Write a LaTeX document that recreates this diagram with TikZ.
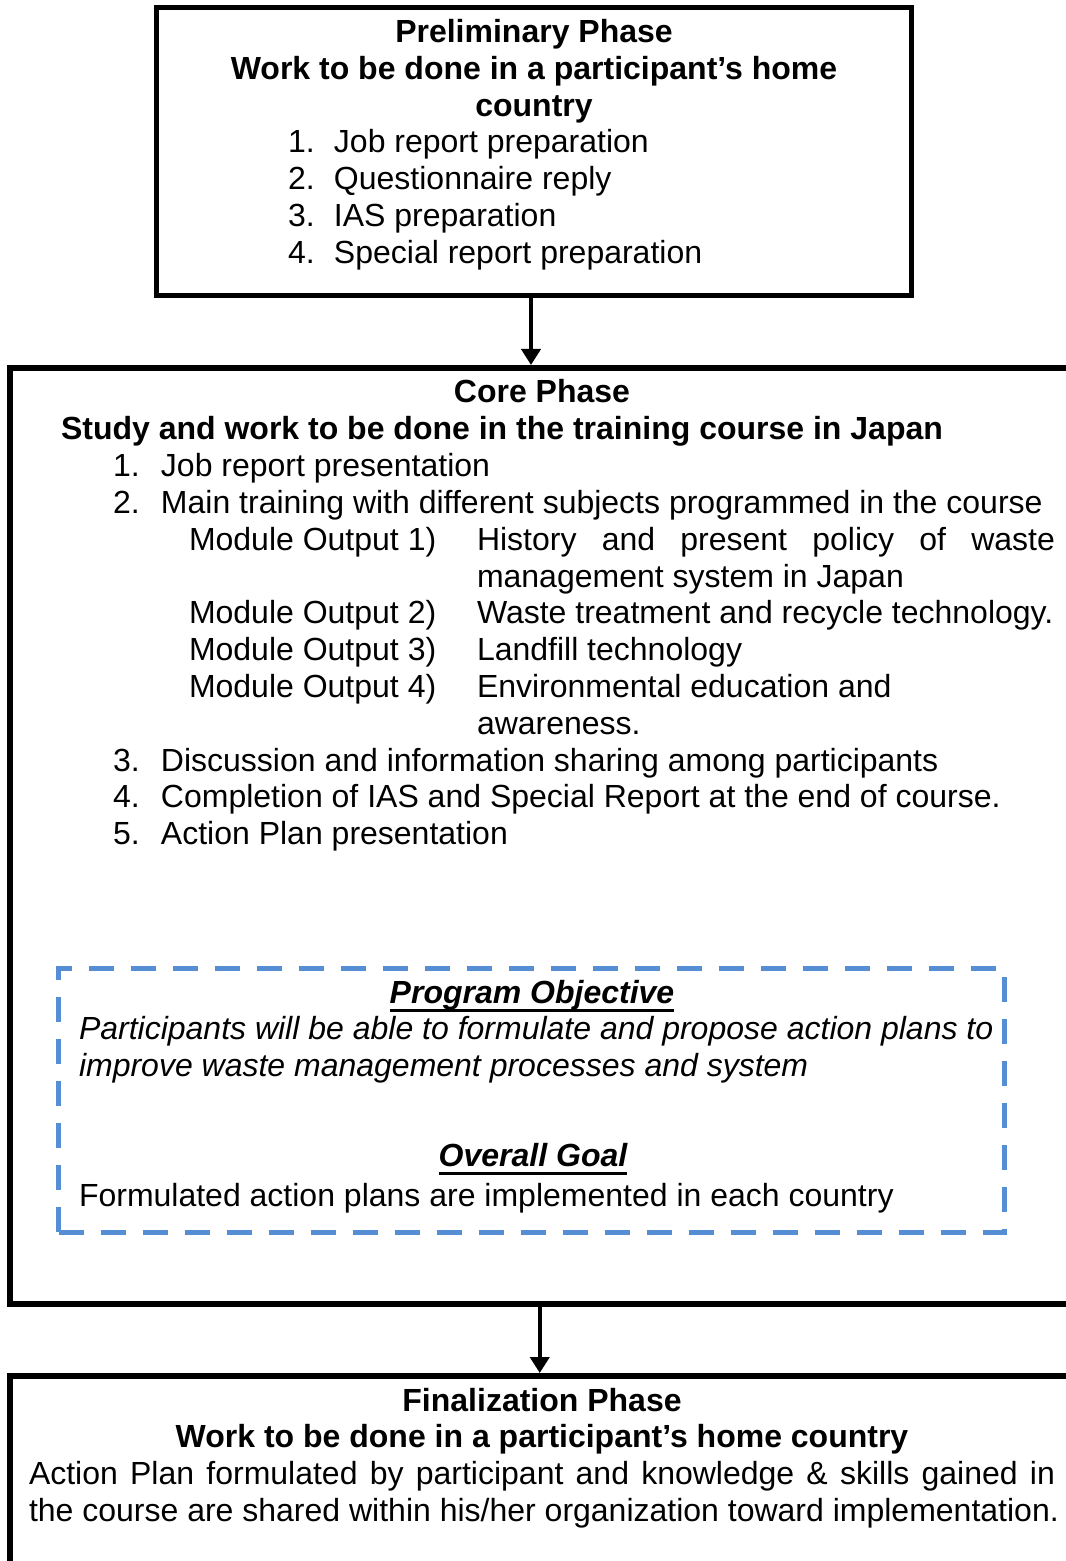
\documentclass[tikz,border=0pt]{standalone}
\usepackage{fontspec}
\setmainfont{Liberation Sans}
\usetikzlibrary{arrows.meta, positioning}
\definecolor{objblue}{RGB}{85,142,213}

\begin{document}
\begin{tikzpicture}[x=0.5pt,y=-0.5pt,font=\fontsize{16pt}{18.4pt}\selectfont]

\tikzstyle{phase}=[rectangle,draw=black,line width=3pt,inner sep=0pt]
\tikzstyle{objective}=[rectangle,draw=objblue,line width=2.5pt,dash pattern=on 12.5pt off 8.5pt,inner sep=0pt]
\tikzstyle{heading}=[font=\fontsize{16pt}{18.4pt}\selectfont\bfseries,inner sep=0pt,outer sep=0pt,anchor=base]
\tikzstyle{textline}=[inner sep=0pt,outer sep=0pt,anchor=base west]
\tikzstyle{goal}=[font=\fontsize{16pt}{18.4pt}\selectfont\bfseries\itshape,inner sep=0pt,outer sep=0pt,anchor=base]
\tikzstyle{post}=[-{Triangle[length=8pt,width=9.5pt]},line width=2pt]

\useasboundingbox (0,0) rectangle (1065,1561);

% phase boxes
\node[phase,line width=2.5pt,minimum width=377.5pt,minimum height=144pt] (prelim box) at (534,151.5) {};
\node[phase,minimum width=530.25pt,minimum height=468pt] (core box) at (539.75,836) {};
\node[phase,minimum width=530.25pt,minimum height=112pt] (final box) at (539.75,1488) {};
\node[objective,minimum width=472.75pt,minimum height=132pt] (objective box) at (531.25,1100) {};

% preliminary phase
\node[heading] (prelim title) at (534,42.5) {Preliminary Phase};
\node[heading] (prelim subtitle) at (534,79.3) {Work to be done in a participant’s home};
\node[heading] (prelim subtitle end) at (534,116.1) {country};
\foreach \txt [count=\i] in {Job report preparation, Questionnaire reply, IAS preparation, Special report preparation} {
    \node[textline] (prelim num \i) at (288,116.1+36.8*\i) {\i.};
    \node[textline,base right=9.65pt of prelim num \i] (prelim item \i) {\txt};
}

% core phase
\node[heading] (core title) at (542,403) {Core Phase};
\node[heading,anchor=base west] (core subtitle) at (61,439.8) {Study and work to be done in the training course in Japan};

\node[textline] (core num 1) at (113,476.6) {1.};
\node[textline,base right=10.65pt of core num 1] (core item 1) {Job report presentation};
\node[textline] (core num 2) at (113,513.4) {2.};
\node[textline,base right=10.65pt of core num 2] (core item 2) {Main training with different subjects programmed in the course};

\node[textline] (module 1) at (189,550.2) {Module Output 1)};
\node[textline] (module text 1) at (477,550.2) {\makebox[289pt][s]{History and present policy of waste}};
\node[textline] (module text 1b) at (477,587) {management system in Japan};
\node[textline] (module 2) at (189,623.8) {Module Output 2)};
\node[textline] (module text 2) at (477,623.8) {Waste treatment and recycle technology.};
\node[textline] (module 3) at (189,660.6) {Module Output 3)};
\node[textline] (module text 3) at (477,660.6) {Landfill technology};
\node[textline] (module 4) at (189,697.4) {Module Output 4)};
\node[textline] (module text 4) at (477,697.4) {Environmental education and};
\node[textline] (module text 4b) at (477,734.2) {awareness.};

\foreach \txt [count=\i from 3] in {Discussion and information sharing among participants, Completion of IAS and Special Report at the end of course., Action Plan presentation} {
    \node[textline] (core num \i) at (113,660.6+36.8*\i) {\i.};
    \node[textline,base right=10.65pt of core num \i] (core item \i) {\txt};
}

% objective and goal
\node[goal] (objective title) at (532,1003) {Program Objective};
\draw[line width=1.5pt] ([yshift=-3.6pt]objective title.base west) -- ([yshift=-3.6pt]objective title.base east);
\node[textline,font=\fontsize{16pt}{18.4pt}\selectfont\itshape] (objective text 1) at (79,1039.5) {Participants will be able to formulate and propose action plans to};
\node[textline,font=\fontsize{16pt}{18.4pt}\selectfont\itshape] (objective text 2) at (79,1076) {improve waste management processes and system};

\node[goal] (goal title) at (533,1166) {Overall Goal};
\draw[line width=1.5pt] ([yshift=-3.6pt]goal title.base west) -- ([yshift=-3.6pt]goal title.base east);
\node[textline] (goal text) at (79,1206.5) {Formulated action plans are implemented in each country};

% finalization phase
\node[heading] (final title) at (542,1411) {Finalization Phase};
\node[heading] (final subtitle) at (542,1447.8) {Work to be done in a participant’s home country};
\node[textline] (final text 1) at (29,1484.6) {\makebox[513pt][s]{Action Plan formulated by participant and knowledge \& skills gained in}};
\node[textline] (final text 2) at (29,1521.4) {the course are shared within his/her organization toward implementation.};

\draw[post] ([xshift=-1.5pt]prelim box.south) -- ([xshift=-1.5pt]prelim box.south |- core box.north);
\draw[post] (core box.south) -- (final box.north);

\end{tikzpicture}
\end{document}
